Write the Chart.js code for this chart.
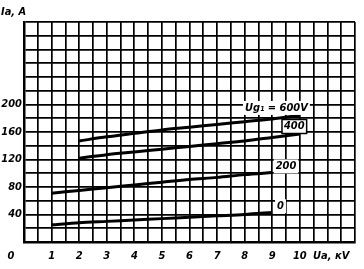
<!DOCTYPE html>
<html>
<head>
<meta charset="utf-8">
<script src="https://cdn.jsdelivr.net/npm/chart.js@4"></script>
<style>
  html, body { margin: 0; padding: 0; background: #fff; }
  #c { display: block; }
</style>
</head>
<body>
<canvas id="c" width="364" height="269"></canvas>
<script>
// data: anode current Ia (A) vs anode voltage Ua (kV)
const ua_0   = [1, 2, 3, 4, 5, 6, 7, 8, 9];
const ia_0   = [25, 28, 30, 32, 34, 36, 38, 40, 43];
const ua_200 = [1, 2, 3, 4, 5, 6, 7, 8, 9];
const ia_200 = [71, 75, 79, 83, 87, 91, 94, 98, 101];
const ua_400 = [2, 3, 4, 5, 6, 7, 8, 9, 10];
const ia_400 = [122, 127, 131, 135, 139, 143, 147, 152, 157];
const ua_600 = [2, 3, 4, 5, 6, 7, 8, 9, 10];
const ia_600 = [147, 153, 158, 163, 167, 171, 175, 179, 184];

const seriesLabels = ['0', '200', '400', 'Ug\u2081 = 600V'];
const xTickValues = [0, 1, 2, 3, 4, 5, 6, 7, 8, 9, 10];
const xTickLabels = ['', '1', '2', '3', '4', '5', '6', '7', '8', '9', '10'];
const yTickValues = [40, 80, 120, 160, 200];
const xTitle = 'Ua, \u043aV';
const yTitle = 'Ia, A';

const FONT = '"Liberation Sans Narrow", "DejaVu Sans Condensed", "Liberation Sans", sans-serif';

function pts(xs, ys) { return xs.map((x, i) => ({ x: x, y: ys[i] })); }

// curve labels + axis captions
const notes = {
  id: 'notes',
  afterDatasetsDraw(chart) {
    const c = chart.ctx, xs = chart.scales.x, ys = chart.scales.y;
    c.save();
    c.font = 'italic bold 11px ' + FONT;
    c.fillStyle = '#000';
    c.textBaseline = 'middle';

    function tag(text, x, y, boxed) {
      const px = xs.getPixelForValue(x), py = ys.getPixelForValue(y);
      const w = c.measureText(text).width;
      c.fillStyle = '#fff';
      c.fillRect(px - w / 2 - 2, py - 7, w + 4, 14);
      if (boxed) {
        c.strokeStyle = '#000';
        c.lineWidth = 1.5;
        c.strokeRect(px - w / 2 - 2, py - 7, w + 4, 14);
      }
      c.fillStyle = '#000';
      c.textAlign = 'center';
      c.fillText(text, px, py);
    }
    tag(seriesLabels[3], 9.15, 195, false);
    tag(seriesLabels[2], 9.8, 168, true);
    tag(seriesLabels[1], 9.5, 110, false);
    tag(seriesLabels[0], 9.3, 52, false);

    c.textAlign = 'left';
    c.fillText(yTitle, 1, 12);
    c.fillText(xTitle, 313, 256);
    c.textAlign = 'center';
    c.fillText('0', 11, 256);
    c.restore();
  }
};

const curve = (xs, ys) => ({
  data: pts(xs, ys),
  borderColor: '#000',
  borderWidth: 3,
  pointRadius: 0,
  tension: 0.3,
  fill: false
});

new Chart(document.getElementById('c'), {
  type: 'line',
  data: {
    datasets: [
      curve(ua_0, ia_0),
      curve(ua_200, ia_200),
      curve(ua_400, ia_400),
      curve(ua_600, ia_600)
    ]
  },
  options: {
    responsive: false,
    animation: false,
    layout: { padding: { top: 22, right: 9, left: 0, bottom: 0 } },
    plugins: { legend: { display: false }, tooltip: { enabled: false } },
    scales: {
      x: {
        type: 'linear',
        min: 0, max: 12,
        afterFit: s => { s.height = 27; },
        afterBuildTicks: s => {
          const t = [];
          for (let v = 0; v <= 12; v += 0.5) t.push({ value: v });
          s.ticks = t;
        },
        ticks: {
          autoSkip: false, maxRotation: 0, padding: 8, color: '#000',
          font: { family: FONT, size: 11, style: 'italic', weight: 'bold' },
          callback: v => {
            const i = xTickValues.indexOf(v);
            return i >= 0 ? xTickLabels[i] : '';
          }
        },
        grid: { color: '#000', lineWidth: 1.7, drawTicks: false },
        border: { color: '#000', width: 2.5 }
      },
      y: {
        min: 0, max: 320,
        afterFit: s => { s.width = 24; },
        ticks: {
          stepSize: 20, autoSkip: false, padding: 2, color: '#000',
          font: { family: FONT, size: 11, style: 'italic', weight: 'bold' },
          callback: v => yTickValues.includes(v) ? String(v) : ''
        },
        grid: { color: '#000', lineWidth: 1.7, drawTicks: false },
        border: { color: '#000', width: 2.5 }
      }
    }
  },
  plugins: [notes]
});
</script>
</body>
</html>
